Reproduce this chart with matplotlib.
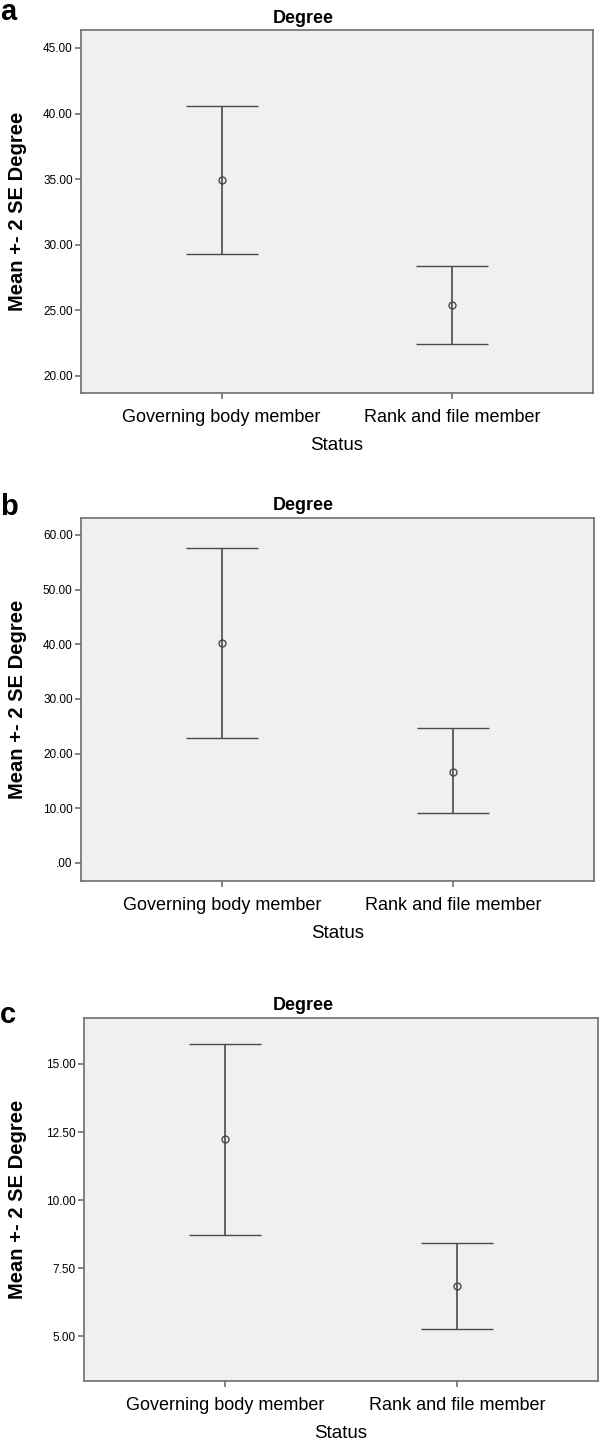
"""SPSS-style error bar panels: mean +- 2 SE degree by member status."""

from __future__ import annotations

import matplotlib

matplotlib.use("Agg")
import matplotlib.pyplot as plt
from matplotlib.ticker import FuncFormatter
import numpy as np

plt.rcParams["font.family"] = ["Liberation Sans", "DejaVu Sans"]

categories = ["Governing body member", "Rank and file member"]

# panel a
means_a = [34.9, 25.4]
lower_a = [29.3, 22.4]
upper_a = [40.6, 28.4]
ticks_a = [20.0, 25.0, 30.0, 35.0, 40.0, 45.0]

# panel b
means_b = [40.3, 16.7]
lower_b = [22.9, 9.1]
upper_b = [57.6, 24.6]
ticks_b = [0.0, 10.0, 20.0, 30.0, 40.0, 50.0, 60.0]

# panel c
means_c = [12.24, 6.84]
lower_c = [8.71, 5.26]
upper_c = [15.74, 8.42]
ticks_c = [5.0, 7.5, 10.0, 12.5, 15.0]

W, H = 600, 1440
LINE = "#4a4a4a"
FRAME = "#6e6e6e"


def _spss_fmt(value, _pos):
    text = f"{value:.2f}"
    return text[1:] if text.startswith("0.") else text


def _panel(fig, box, means, lower, upper, ticks, ylim, letter, letter_base, title_base):
    left, top, right, bottom = box
    ax = fig.add_axes([left / W, 1 - bottom / H, (right - left) / W, (bottom - top) / H])
    ax.set_facecolor("#f0f0f0")
    for spine in ax.spines.values():
        spine.set_color(FRAME)
        spine.set_linewidth(1.2)

    x = np.arange(len(categories))
    means = np.asarray(means)
    yerr = np.vstack([means - np.asarray(lower), np.asarray(upper) - means])
    ax.errorbar(
        x, means, yerr=yerr, fmt="o", color=LINE, ecolor=LINE, elinewidth=1.2,
        capsize=26, capthick=1.2, markersize=5, markerfacecolor="none",
        markeredgewidth=1.0,
    )

    ax.set_xlim(-0.61, 1.61)
    ax.set_ylim(*ylim)
    ax.set_xticks(x)
    ax.set_xticklabels(categories, fontsize=13)
    ax.set_yticks(ticks)
    ax.yaxis.set_major_formatter(FuncFormatter(_spss_fmt))
    ax.tick_params(axis="y", labelsize=8.5, length=4, width=1.2, color=FRAME, pad=2)
    ax.tick_params(axis="x", length=4.5, width=1.2, color=FRAME, pad=7)
    ax.set_xlabel("Status", fontsize=13.5, labelpad=8)
    ax.set_ylabel("Mean +- 2 SE Degree", fontsize=14.5, fontweight="bold", labelpad=0)
    # anchor is the right edge of the rotated label; its centre sits near x=17 px
    ax.yaxis.set_label_coords((27 - left) / (right - left), 0.5)

    fig.text(0, 1 - letter_base / H, letter, fontsize=21, fontweight="bold",
             ha="left", va="baseline")
    fig.text(303 / W, 1 - title_base / H, "Degree", fontsize=13, fontweight="bold",
             ha="center", va="baseline")
    return ax


def main() -> None:
    fig = plt.figure(figsize=(W / 100, H / 100), dpi=100)
    _panel(fig, (81, 30, 593, 393), means_a, lower_a, upper_a, ticks_a,
           (18.7, 46.37), "a", 20, 23)
    _panel(fig, (81, 518, 594, 881), means_b, lower_b, upper_b, ticks_b,
           (-3.3, 63.1), "b", 515, 510)
    _panel(fig, (84, 1018, 598, 1381), means_c, lower_c, upper_c, ticks_c,
           (3.35, 16.69), "c", 1023, 1010)
    fig.savefig("out.png", dpi=100)
    plt.close(fig)


if __name__ == "__main__":
    main()
